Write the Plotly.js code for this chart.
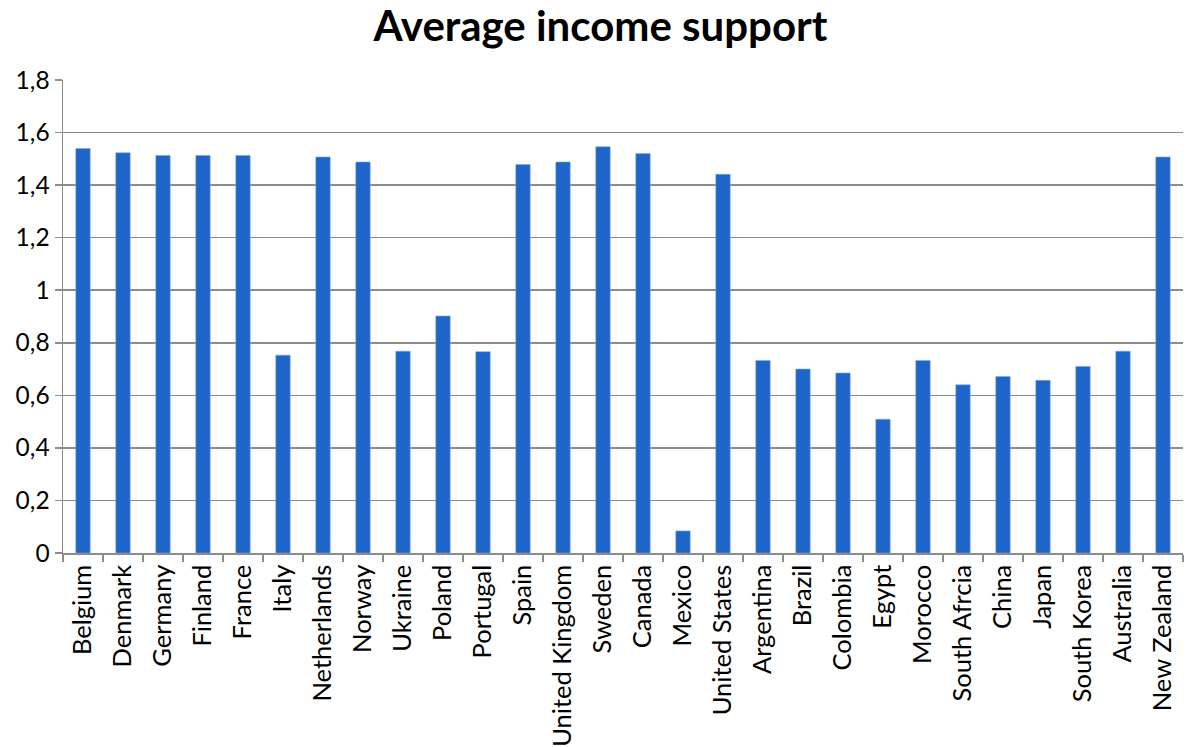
<!DOCTYPE html>
<html>
<head>
<meta charset="utf-8">
<script src="https://cdn.plot.ly/plotly-3.0.1.min.js"></script>
<style>html,body{margin:0;padding:0;background:#fff;}#chart{width:1189px;height:747px;}</style>
</head>
<body>
<div id="chart"></div>
<script>
const countries = ["Belgium","Denmark","Germany","Finland","France","Italy","Netherlands","Norway","Ukraine","Poland","Portugal","Spain","United Kingdom","Sweden","Canada","Mexico","United States","Argentina","Brazil","Colombia","Egypt","Morocco","South Afrcia","China","Japan","South Korea","Australia","New Zealand"];
const incomeSupport = [1.539,1.523,1.513,1.513,1.513,0.753,1.507,1.488,0.768,0.902,0.766,1.478,1.488,1.546,1.520,0.084,1.441,0.733,0.700,0.685,0.509,0.733,0.640,0.672,0.657,0.710,0.768,1.507];
const yTickVals = [0,0.2,0.4,0.6,0.8,1,1.2,1.4,1.6,1.8];
const yTickText = ["0","0,2","0,4","0,6","0,8","1","1,2","1,4","1,6","1,8"];

const font = "Lato, 'Liberation Sans', sans-serif";
Plotly.newPlot("chart", [{
  type: "bar",
  x: countries,
  y: incomeSupport,
  marker: {color: "#1f64c8", line: {color: "#7fa6e0", width: 0.6}},
  hoverinfo: "x+y"
}], {
  width: 1189, height: 747,
  margin: {l: 63, r: 6, t: 80, b: 194},
  paper_bgcolor: "#fff", plot_bgcolor: "#fff",
  bargap: 0.64,
  title: {text: "<b>Average income support</b>", x: 0.505, xanchor: "center", y: 0.984, yanchor: "top",
          font: {family: font, size: 42, color: "#000"}},
  xaxis: {
    type: "category",
    tickangle: -90,
    tickfont: {family: font, size: 25.5, color: "#000"},
    ticks: "outside", tickson: "boundaries", ticklen: 7, tickcolor: "#8c8c8c", tickwidth: 1.5,
    showline: true, linecolor: "#8c8c8c", linewidth: 1.5,
    showgrid: false, automargin: false
  },
  yaxis: {
    range: [0, 1.8],
    tickvals: yTickVals, ticktext: yTickText,
    tickfont: {family: font, size: 24.5, color: "#000"},
    ticks: "outside", ticklen: 7, tickcolor: "#8c8c8c", tickwidth: 1.5,
    showline: true, linecolor: "#8c8c8c", linewidth: 1.5,
    showgrid: true, gridcolor: "#8c8c8c", gridwidth: 1.5,
    zeroline: false, automargin: false
  },
  showlegend: false
}, {displayModeBar: false, staticPlot: true});
</script>
</body>
</html>
